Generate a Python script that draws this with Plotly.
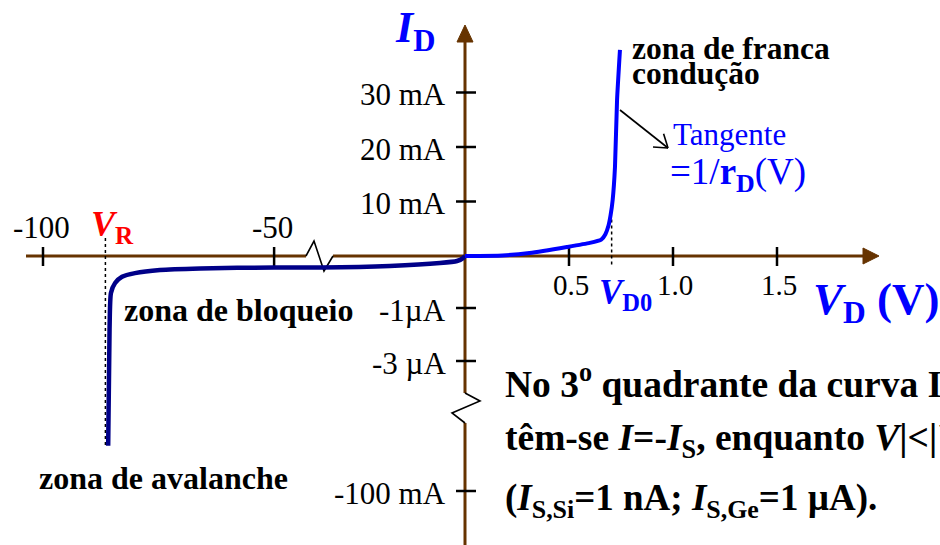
import numpy as np
import plotly.graph_objects as go

# ---------------- data ----------------
# forward branch: diode voltage (V) and current (mA)
fwd_v = [0.0, 0.18, 0.31, 0.49, 0.60, 0.655, 0.675, 0.69, 0.70, 0.71, 0.721, 0.731, 0.745]
fwd_i_ma = [0.0, 0.1, 0.55, 1.65, 2.4, 3.0, 4.0, 5.6, 7.5, 10.3, 16.3, 28.6, 37.8]

# reverse branch: voltage (V) and current (uA)
rev_v = [-85.9, -85.6, -85.3, -84.4, -82.9, -80.1, -74.7, -66.0, -50.0, -25.0,
         -5.7, -1.9, -0.6, -0.15, 0.0]
rev_i_ua = [-60000, -1.8, -0.71, -0.52, -0.40, -0.33, -0.27, -0.24, -0.22, -0.22,
            -0.19, -0.135, -0.096, -0.04, 0.0]

V_R = -86.5      # breakdown voltage (V)
V_D0 = 0.705     # knee voltage (V)

x_ticks_neg = [-100, -50]
x_ticks_pos = [0.5, 1.0, 1.5]
x_tick_text_neg = ["-100", "-50"]
x_tick_text_pos = ["0.5", "1.0", "1.5"]

y_ticks_ma = [30, 20, 10, -0.001, -0.003, -100]
y_tick_text = ["30 mA", "20 mA", "10 mA", "-1µA", "-3 µA", "-100 mA"]

# ---------------- broken-axis scales (value -> drawing position) ----------------
X_SCALE_V = [-100.0, -43.1, -10.0, 0.0, 2.0]
X_SCALE_POS = [43.0, 306.0, 333.0, 465.0, 881.0]
Y_SCALE_MA = [-100.0, -40.0, -0.0042, -0.003, -0.001, 0.0, 45.0]
Y_SCALE_POS = [491.0, 423.0, 393.0, 361.0, 308.0, 256.0, 256.0 - 45 * 5.45]


def fx(v):
    return np.interp(np.asarray(v, dtype=float), X_SCALE_V, X_SCALE_POS)


def fy(i_ma):
    return np.interp(np.asarray(i_ma, dtype=float), Y_SCALE_MA, Y_SCALE_POS)


X0 = float(fx(0.0))
Y0 = float(fy(0.0))

AXIS = "#663300"
SERIF = "Liberation Serif, Times New Roman, serif"

fig = go.Figure()

# reverse (blocking + avalanche) branch
fig.add_trace(go.Scatter(
    x=fx(rev_v), y=fy(np.asarray(rev_i_ua) / 1000.0), mode="lines",
    line=dict(color="#000088", width=4.5, shape="spline", smoothing=0.6),
    hoverinfo="skip", showlegend=False))

# forward branch
fig.add_trace(go.Scatter(
    x=fx(fwd_v), y=fy(fwd_i_ma), mode="lines",
    line=dict(color="#0000FF", width=4, shape="spline", smoothing=0.5),
    hoverinfo="skip", showlegend=False))

shapes = []


def seg(x0, y0, x1, y1, color, width, dash="solid"):
    shapes.append(dict(type="line", xref="x", yref="y", x0=x0, y0=y0, x1=x1, y1=y1,
                       line=dict(color=color, width=width, dash=dash), layer="below"))


def path(pts, color, width, fill=None):
    d = "M" + " L".join(f"{px:.1f},{py:.1f}" for px, py in pts)
    if fill:
        d += " Z"
    shapes.append(dict(type="path", xref="x", yref="y", path=d,
                       line=dict(color=color, width=width),
                       fillcolor=fill if fill else "rgba(0,0,0,0)", layer="below"))


# x axis with break
brk_l, brk_r = 306.0, 333.0
seg(26, Y0, brk_l, Y0, AXIS, 3)
seg(brk_r, Y0, 866, Y0, AXIS, 3)
path([(brk_l, Y0), (314, Y0 - 15), (324, Y0 + 15), (brk_r, Y0)], "black", 1.6)
path([(863, Y0 - 8), (879, Y0), (863, Y0 + 8)], AXIS, 1, fill=AXIS)

# y axis with break
seg(X0, 40, X0, 393, AXIS, 3)
seg(X0, 423, X0, 545, AXIS, 3)
path([(X0, 393), (X0 + 15, 401), (X0 - 13, 413), (X0, 423)], "black", 1.6)
path([(X0 - 8, 42), (X0, 25), (X0 + 8, 42)], AXIS, 1, fill=AXIS)

# ticks
for v in x_ticks_neg + x_ticks_pos:
    p = float(fx(v))
    seg(p, Y0 - 9, p, Y0 + 10, "black", 2.5)
for t in y_ticks_ma:
    p = float(fy(t))
    seg(X0 - 9, p, X0 + 11, p, "black", 2.5)

# dotted guides at V_R and V_D0
seg(float(fx(V_R)), 238, float(fx(V_R)), float(fy(rev_i_ua[0] / 1000.0)), "black", 1.5, "dot")
vd0_top = float(fy(np.interp(V_D0, fwd_v, fwd_i_ma))) + 12
seg(float(fx(V_D0)), vd0_top, float(fx(V_D0)), Y0 + 10, "black", 1.5, "dot")

# tangent arrow
ax0, ay0, ax1, ay1 = 620.0, 110.0, 668.0, 148.0
path([(ax0, ay0), (ax1, ay1)], "black", 1.6)
ang = np.arctan2(ay1 - ay0, ax1 - ax0)
for da in (0.6, -0.6):
    path([(ax1, ay1), (ax1 - 15 * np.cos(ang + da), ay1 - 15 * np.sin(ang + da))], "black", 1.6)

annotations = []


def label(x, y, text, size, color="black", xanchor="left", yanchor="middle"):
    annotations.append(dict(x=x, y=y, xref="x", yref="y", text=text, showarrow=False,
                            xanchor=xanchor, yanchor=yanchor,
                            font=dict(family=SERIF, size=size, color=color)))


# tick labels
for v, t in zip(x_ticks_neg, x_tick_text_neg):
    label(float(fx(v)) - 2, 227, t, 31, xanchor="center")
for v, t in zip(x_ticks_pos, x_tick_text_pos):
    label(float(fx(v)) + 2, 285, t, 29, xanchor="center")
for v, t in zip(y_ticks_ma, y_tick_text):
    label(448, float(fy(v)) + 2, t, 31, xanchor="right")

# axis titles and markers
label(393, 30, "<b><i>I</i></b><b><sub>D</sub></b>", 44, color="#0000FF")
label(811, 302, "<b><i>V</i></b><b><sub>D</sub></b><b> (V)</b>", 45, color="#0000FF")
label(89, 226, "<b><i>V</i></b><b><sub>R</sub></b>", 36, color="#FF0000")
label(597, 294, "<b><i>V</i></b><b><sub>D0</sub></b>", 35, color="#0000FF")

# region captions
label(630, 48, "<b>zona de franca</b>", 31.5)
label(630, 73, "<b>condução</b>", 31.5)
label(122, 310, "<b>zona de bloqueio</b>", 32)
label(37, 478, "<b>zona de avalanche</b>", 32)
label(671, 134, "Tangente", 31, color="#0000FF")
label(668, 174, "=1/<b>r</b><b><sub>D</sub></b>(V)", 37, color="#0000FF")

# explanatory text
label(503, 381, "<b>No 3<sup>o</sup> quadrante da curva I-V,</b>", 37.5)
label(503, 440, "<b>têm-se <i>I</i>=-<i>I</i><sub>S</sub>, enquanto <i>V</i>|&lt;|<i>V</i><sub>R</sub>|</b>", 37.5)
label(503, 500, "<b>(<i>I</i><sub>S,Si</sub>=1 nA; <i>I</i><sub>S,Ge</sub>=1 µA).</b>", 37)

fig.update_layout(
    width=940, height=545,
    margin=dict(l=0, r=0, t=0, b=0),
    paper_bgcolor="white", plot_bgcolor="white",
    xaxis=dict(range=[0, 940], visible=False, fixedrange=True),
    yaxis=dict(range=[545, 0], visible=False, fixedrange=True),
    shapes=shapes, annotations=annotations, showlegend=False,
)

fig.write_html("out.html")
